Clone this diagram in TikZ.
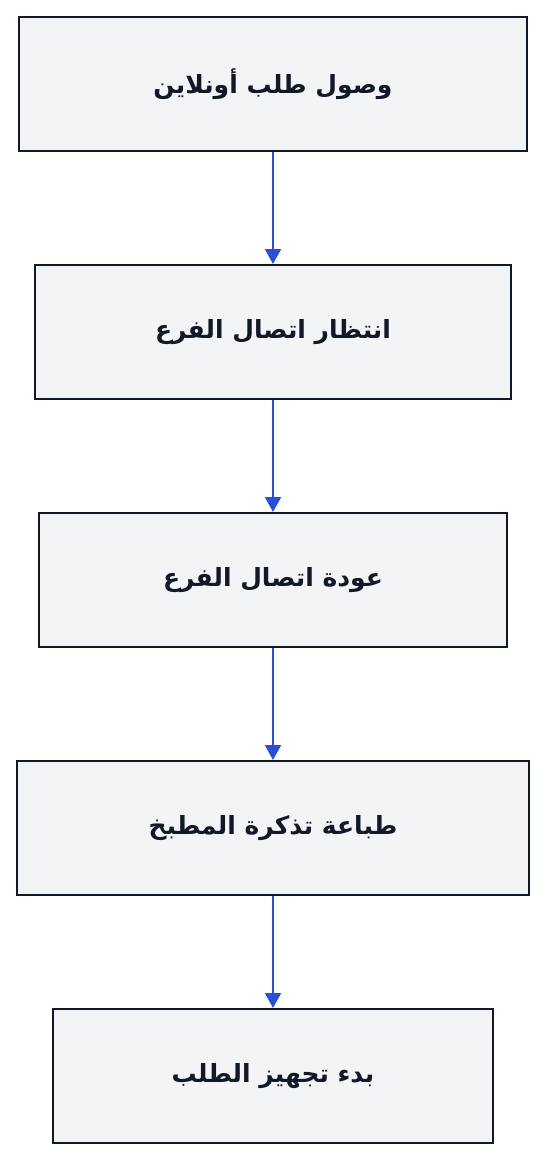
\documentclass[tikz,border=0pt]{standalone}
\usepackage{fontspec}
\newfontfamily\arabicfont[Script=Arabic]{DejaVu Sans}
\TeXXeTstate=1
\usetikzlibrary{arrows.meta}

\definecolor{boxfill}{HTML}{F3F4F6}
\definecolor{boxline}{HTML}{111827}
\definecolor{arrowblue}{HTML}{2B50D8}

\begin{document}
\begin{tikzpicture}[x=1pt,y=1pt,
step box/.style={rectangle, draw=boxline, fill=boxfill, line width=2pt, minimum height=134pt,
  font=\arabicfont\bfseries\fontsize{25}{30}\selectfont, text=boxline},
edge/.style={draw=arrowblue, line width=2pt, -{Triangle[width=16pt,length=15pt]}}]

%% local variables
\def \cx {273}
\def \vm {248}

\useasboundingbox (0,0) rectangle (546,-1160);

%% place all steps
\node[step box, minimum width=508pt] (S-1) at (\cx,{-84 - 0*\vm}) {\beginR وصول طلب أونلاين\endR};
\node[step box, minimum width=476pt] (S-2) at (\cx,{-84 - 1*\vm}) {\beginR انتظار اتصال الفرع\endR};
\node[step box, minimum width=468pt] (S-3) at (\cx,{-84 - 2*\vm}) {\beginR عودة اتصال الفرع\endR};
\node[step box, minimum width=512pt] (S-4) at (\cx,{-84 - 3*\vm}) {\beginR طباعة تذكرة المطبخ\endR};
\node[step box, minimum width=440pt] (S-5) at (\cx,{-84 - 4*\vm}) {\beginR بدء تجهيز الطلب\endR};

%% place all edges
\foreach \i/\o in {1/2, 2/3, 3/4, 4/5}
      \draw[edge] (S-\i) -- (S-\o);

\end{tikzpicture}
\end{document}
